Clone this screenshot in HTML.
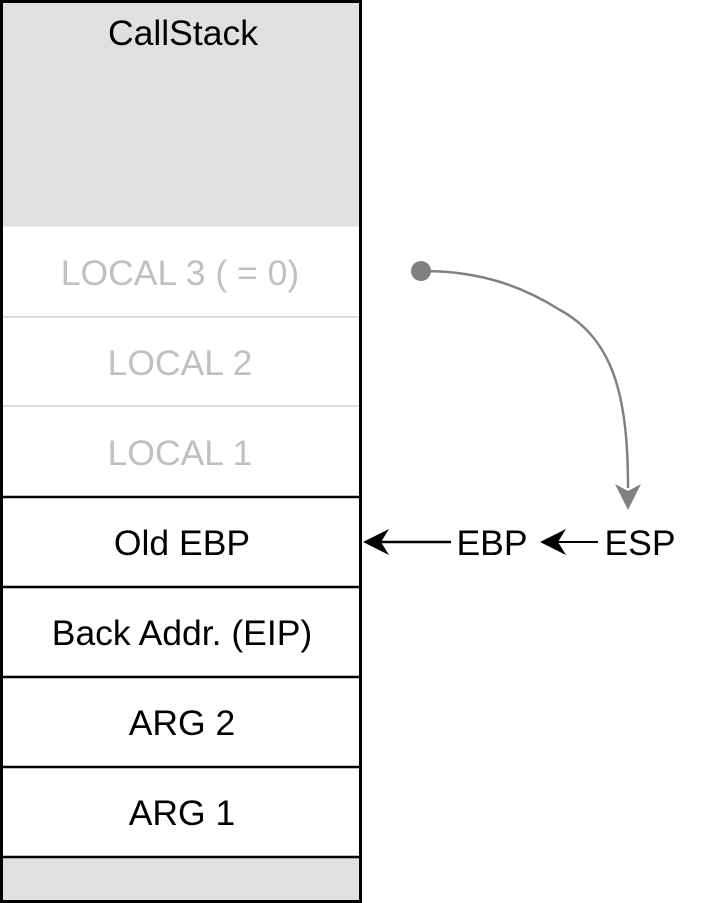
<!DOCTYPE html>
<html><head><meta charset="utf-8"><style>
html,body{margin:0;padding:0;background:#fff;}
svg{display:block;}
text{font-family:"Liberation Sans",Arial,sans-serif;font-size:35.5px;text-anchor:middle;}
</style></head><body>
<svg width="720" height="903" viewBox="0 0 720 903">
<rect x="1.5" y="1.5" width="359" height="225" fill="#e0e0e0"/>
<rect x="1.5" y="857" width="359" height="44" fill="#e0e0e0"/>
<line x1="2" y1="317" x2="360" y2="317" stroke="#dcdcdc" stroke-width="2"/>
<line x1="2" y1="406" x2="360" y2="406" stroke="#dcdcdc" stroke-width="2"/>
<g stroke="#000" stroke-width="2.5">
<line x1="1.5" y1="497" x2="360" y2="497"/>
<line x1="1.5" y1="587" x2="360" y2="587"/>
<line x1="1.5" y1="677" x2="360" y2="677"/>
<line x1="1.5" y1="767" x2="360" y2="767"/>
<line x1="1.5" y1="857" x2="360" y2="857"/>
</g>
<rect x="1.5" y="1.5" width="359" height="900" fill="none" stroke="#000" stroke-width="3"/>
<text x="183" y="45">CallStack</text>
<text x="180" y="285" fill="#c0c0c0">LOCAL 3 ( = 0)</text>
<text x="180" y="375" fill="#c0c0c0">LOCAL 2</text>
<text x="180" y="465" fill="#c0c0c0">LOCAL 1</text>
<text x="182" y="555">Old EBP</text>
<text x="182" y="645">Back Addr. (EIP)</text>
<text x="182" y="735">ARG 2</text>
<text x="182" y="825">ARG 1</text>
<circle cx="421" cy="271" r="10" fill="#808080"/>
<path d="M428 271 C480 272 520 285 560 310 C615 340 628 400 628 488" fill="none" stroke="#808080" stroke-width="2.5"/>
<path d="M628 510 L615 484 L628 491 L641 484 Z" fill="#808080"/>
<text x="492" y="555">EBP</text>
<text x="640" y="555">ESP</text>
<line x1="375" y1="542" x2="451" y2="542" stroke="#000" stroke-width="2.5"/>
<path d="M363 542 L389 529 L381 542 L389 555 Z" fill="#000"/>
<line x1="550" y1="542" x2="598" y2="542" stroke="#000" stroke-width="2"/>
<path d="M540 542 L566 529 L558 542 L566 555 Z" fill="#000"/>
</svg>
</body></html>
